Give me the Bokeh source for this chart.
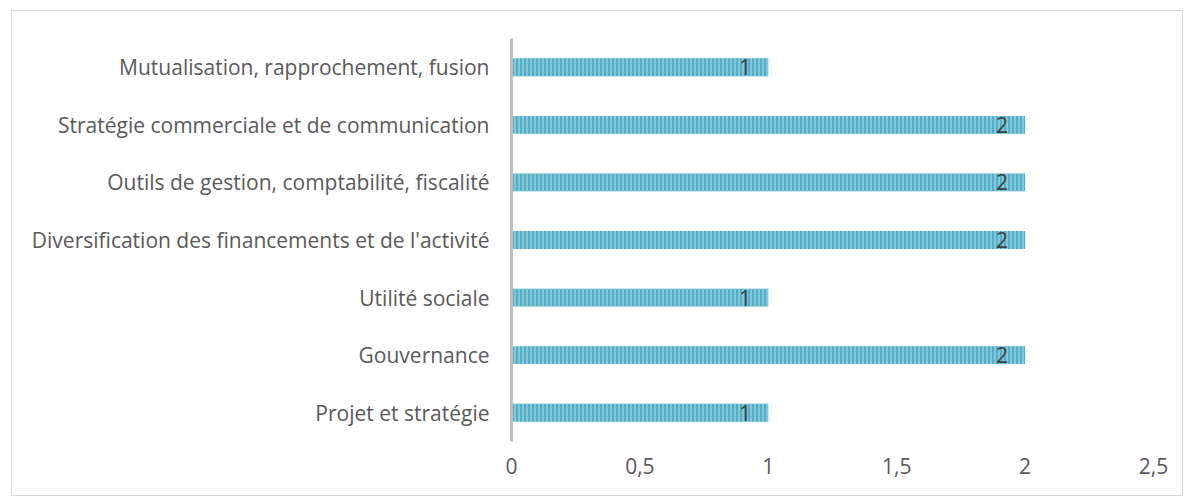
from bokeh.plotting import figure
from bokeh.models import ColumnDataSource, Range1d, FixedTicker, CustomJSTickFormatter
from bokeh.core.properties import value
from bokeh.embed import file_html
from bokeh.resources import INLINE

categories = [
    "Projet et stratégie",
    "Gouvernance",
    "Utilité sociale",
    "Diversification des financements et de l'activité",
    "Outils de gestion, comptabilité, fiscalité",
    "Stratégie commerciale et de communication",
    "Mutualisation, rapprochement, fusion",
]
counts = [1, 2, 1, 2, 2, 2, 1]
x_ticks = [0, 0.5, 1, 1.5, 2, 2.5]

FONT = "Open Sans"
FS = "21px"

src = ColumnDataSource(dict(cat=categories, val=counts, lab=[str(v) for v in counts]))

p = figure(
    width=1172, height=486,
    y_range=categories,
    x_range=Range1d(0, 2.5),
    output_backend="svg",
    toolbar_location=None,
    min_border_left=499, min_border_right=31,
    min_border_top=27, min_border_bottom=56,
)
p.styles = {"border": "1px solid #d9d9d9", "margin-left": "11px", "margin-top": "10px"}
p.outline_line_color = None
p.xgrid.grid_line_color = None
p.ygrid.grid_line_color = None

p.hbar(y="cat", right="val", left=0, height=0.31, source=src,
       fill_color="#52afc8", line_color=None,
       hatch_pattern="vertical_line", hatch_color="#a6d6e4",
       hatch_scale=4, hatch_weight=1.2)

p.text(x="val", y="cat", text="lab", source=src,
       text_align="right", text_baseline="middle", x_offset=-17, y_offset=0,
       text_font=value(FONT), text_font_size=FS, text_color="#404040")

xa = p.xaxis[0]
xa.ticker = FixedTicker(ticks=x_ticks)
xa.formatter = CustomJSTickFormatter(code="return tick.toString().replace('.', ',');")
xa.axis_line_color = None
xa.major_tick_line_color = None
xa.minor_tick_line_color = None
xa.major_tick_out = 0
xa.major_label_standoff = 16
xa.major_label_text_font = FONT
xa.major_label_text_font_size = FS
xa.major_label_text_color = "#595959"

ya = p.yaxis[0]
ya.axis_line_color = "#bfbfbf"
ya.axis_line_width = 3
ya.major_tick_line_color = None
ya.minor_tick_line_color = None
ya.major_tick_out = 0
ya.major_label_standoff = 22
ya.major_label_text_font = FONT
ya.major_label_text_font_size = FS
ya.major_label_text_color = "#595959"

open("out.html", "w").write(file_html(p, INLINE))
